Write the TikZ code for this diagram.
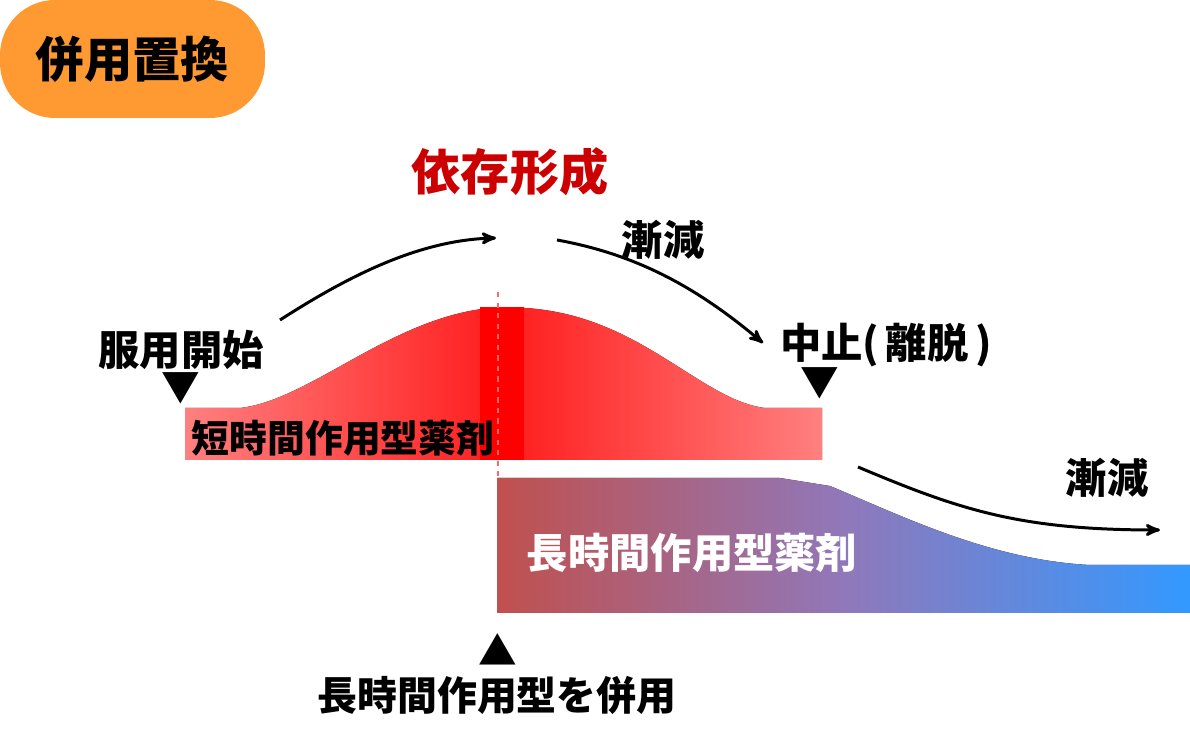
\documentclass[tikz,border=0pt]{standalone}
\usepackage{fontspec}
\setmainfont{Noto Sans CJK JP}
\usepackage{tikz}
\usetikzlibrary{arrows,positioning}

\definecolor{badge}{HTML}{FF9A33}
\definecolor{titlered}{HTML}{CC0000}
\definecolor{palered}{HTML}{FF8080}
\definecolor{peakred}{HTML}{FF1C1C}
\definecolor{longleft}{HTML}{C0504D}
\definecolor{longmid}{HTML}{9078BA}
\definecolor{longright}{HTML}{3399FF}

\tikzset{
  lbl/.style={font=\bfseries\fontsize{23.5}{24}\selectfont, inner sep=0pt},
  tri/.style={font=\fontsize{22}{22}\selectfont, inner sep=0pt},
  flow/.style={->, line width=1.7pt}
}

\begin{document}
\begin{tikzpicture}[x=0.02cm,y=-0.02cm,>=stealth']
        \useasboundingbox (0,0) rectangle (1190,742);

        % badge
        \node[fill=badge, rounded corners=1.1cm, minimum width=5.3cm, minimum height=2.36cm, inner sep=0pt,
              font=\bfseries\fontsize{27.5}{28}\selectfont] (badge) at (132.5,59) {併用置換};

        % short acting drug
        \fill[left color=palered, right color=palered, middle color=peakred]
          (185,460) -- (185,408) -- (240,408) .. controls (310,400) and (390,318) .. (490,308)
          -- (525,308) .. controls (640,315) and (700,400) .. (765,408) -- (822,408) -- (822,460) -- cycle;
        \fill[red] (480,307) rectangle (524,460);

        % long acting drug
        \fill[left color=longleft, right color=longright, middle color=longmid]
          (497,613) -- (497,478) -- (780,478) -- (830,486) .. controls (900,515) and (990,560) .. (1090,565)
          -- (1190,565) -- (1190,613) -- cycle;

        \draw[red!60, dashed, line width=0.8pt] (498,292) -- (498,480);

        \node[lbl, font=\bfseries\fontsize{28}{28}\selectfont, text=titlered] (title) at (510,172) {依存形成};
        \node[lbl] (down1) at (663,240) {漸減};
        \node[lbl] (start) at (181,350) {服用開始};
        \node[tri] (starttri) at (181,388) {▼};
        \node[lbl] (stop) at (886,345) {中止(\,離脱\,)};
        \node[tri] (stoptri) at (820,383) {▼};
        \node[lbl, font=\bfseries\fontsize{21.5}{22}\selectfont] (short) at (343,438) {短時間作用型薬剤};
        \node[lbl, text=white] (long) at (692,553) {長時間作用型薬剤};
        \node[tri] (addtri) at (498,650) {▲};
        \node[lbl, font=\bfseries\fontsize{22.7}{23}\selectfont] (add) at (497,695) {長時間作用型を併用};
        \node[lbl] (down2) at (1107,478) {漸減};

        \coordinate (a1) at (280,320);
        \coordinate (a2) at (496,238);
        \coordinate (b1) at (557,240);
        \coordinate (b2) at (763,343);
        \coordinate (c1) at (858,467);
        \coordinate (c2) at (1160,530);

        \draw[flow] (a1) .. controls (350,275) and (420,240) .. (a2);
        \draw[flow] (b1) .. controls (640,255) and (700,290) .. (b2);
        \draw[flow] (c1) .. controls (960,510) and (1020,530) .. (c2);
      \end{tikzpicture}
\end{document}
